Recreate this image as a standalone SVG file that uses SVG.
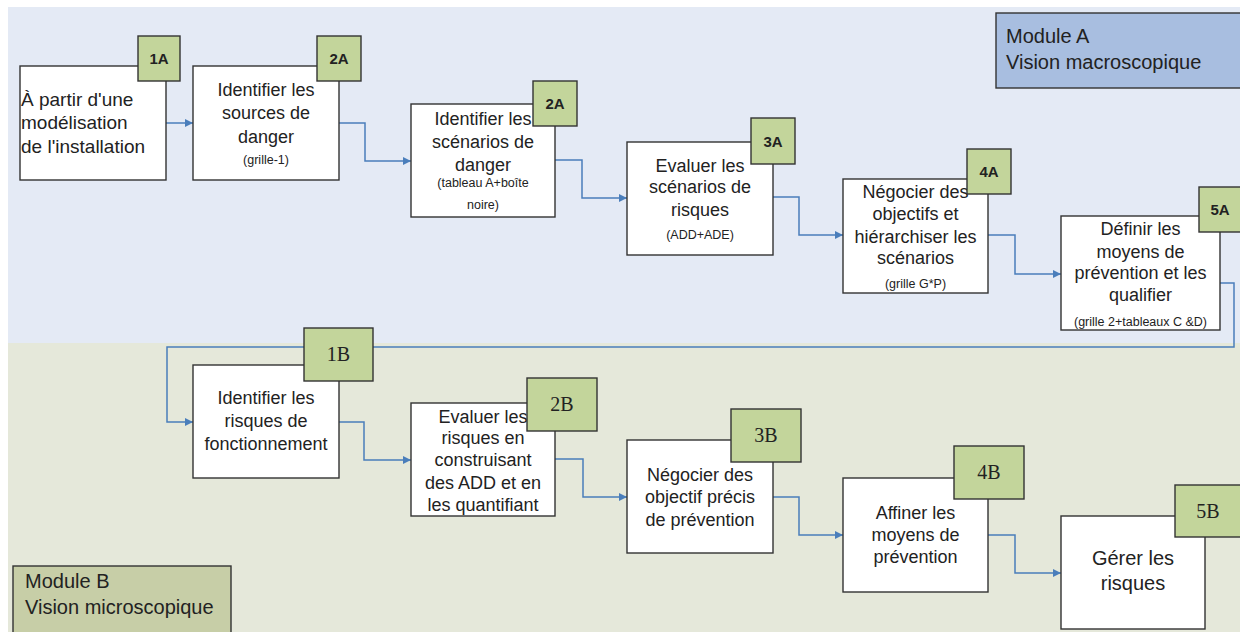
<svg xmlns="http://www.w3.org/2000/svg" width="1240" height="632" viewBox="0 0 1240 632">
<defs>
<style>
.box{fill:#ffffff;stroke:#333333;stroke-width:1.4}
.badge{fill:#c3d59b;stroke:#333333;stroke-width:1.4}
.t{font-family:"Liberation Sans",Arial,sans-serif;font-size:18px;fill:#222222;text-anchor:middle}
.tl{font-family:"Liberation Sans",Arial,sans-serif;font-size:19px;fill:#222222}
.s{font-family:"Liberation Sans",Arial,sans-serif;font-size:12.5px;fill:#222222;text-anchor:middle}
.ba{font-family:"Liberation Sans",Arial,sans-serif;font-size:15px;font-weight:bold;fill:#222222;text-anchor:middle}
.bb{font-family:"Liberation Serif","Times New Roman",serif;font-size:20px;fill:#222222;text-anchor:middle}
.big{font-family:"Liberation Sans",Arial,sans-serif;font-size:20px;fill:#222222;text-anchor:middle}
.mod{font-family:"Liberation Sans",Arial,sans-serif;font-size:20px;fill:#222222}
.c{fill:none;stroke:#4a7ebb;stroke-width:1.5}
</style>
<marker id="arr" viewBox="0 0 10 10" refX="10" refY="5" markerWidth="8" markerHeight="8" markerUnits="userSpaceOnUse" orient="auto">
<path d="M0,0 L10,5 L0,10 z" fill="#4a7ebb"/>
</marker>
</defs>
<rect x="0" y="0" width="1240" height="632" fill="#ffffff"/>
<rect id="moduleA-bg" x="8" y="7" width="1232" height="336" fill="#e4eaf5"/>
<rect id="moduleB-bg" x="8" y="343" width="1232" height="289" fill="#e5e8da"/>
<g id="moduleA-label">
<rect x="996" y="13" width="250" height="75" fill="#a8bee0" stroke="#333333" stroke-width="1.4"/>
<text class="mod" x="1006" y="43">Module A</text>
<text class="mod" x="1006" y="69">Vision macroscopique</text>
</g>
<g id="moduleB-label">
<rect x="13" y="566" width="218" height="70" fill="#c7cea7" stroke="#333333" stroke-width="1.4"/>
<text class="mod" x="25" y="588">Module B</text>
<text class="mod" x="25" y="614">Vision microscopique</text>
</g>
<g id="connectors">
<path class="c" d="M166,123 H193" marker-end="url(#arr)"/>
<path class="c" d="M339,123 H365 V161 H411" marker-end="url(#arr)"/>
<path class="c" d="M555,160 H582 V198 H627" marker-end="url(#arr)"/>
<path class="c" d="M773,197 H799 V235 H843" marker-end="url(#arr)"/>
<path class="c" d="M988,235 H1015 V274 H1061" marker-end="url(#arr)"/>
<path class="c" d="M1220,283 H1234 V347 H167 V422 H193" marker-end="url(#arr)"/>
<path class="c" d="M339,422 H364 V460 H411" marker-end="url(#arr)"/>
<path class="c" d="M555,459 H583 V497 H627" marker-end="url(#arr)"/>
<path class="c" d="M773,497 H799 V535 H843" marker-end="url(#arr)"/>
<path class="c" d="M988,535 H1015 V573 H1061" marker-end="url(#arr)"/>
</g>
<g id="node-1A">
<rect class="box" x="20" y="66" width="146" height="114"/>
<text class="tl" x="21" y="106">À partir d'une</text>
<text class="tl" x="21" y="129">modélisation</text>
<text class="tl" x="21" y="153">de l'installation</text>
<rect class="badge" x="138" y="36" width="42" height="45"/>
<text class="ba" x="159" y="64">1A</text>
</g>
<g id="node-2A-sources">
<rect class="box" x="193" y="66" width="146" height="114"/>
<text class="t" x="266" y="96">Identifier les</text>
<text class="t" x="266" y="119">sources de</text>
<text class="t" x="266" y="143">danger</text>
<text class="s" x="266" y="164">(grille-1)</text>
<rect class="badge" x="317" y="36" width="44" height="45"/>
<text class="ba" x="339" y="64">2A</text>
</g>
<g id="node-2A-scenarios">
<rect class="box" x="411" y="104" width="144" height="113"/>
<text class="t" x="483" y="125">Identifier les</text>
<text class="t" x="483" y="148">scénarios de</text>
<text class="t" x="483" y="171">danger</text>
<text class="s" x="483" y="187">(tableau A+boîte</text>
<text class="s" x="483" y="209">noire)</text>
<rect class="badge" x="533" y="81" width="44" height="45"/>
<text class="ba" x="555" y="109">2A</text>
</g>
<g id="node-3A">
<rect class="box" x="627" y="142" width="146" height="113"/>
<text class="t" x="700" y="172">Evaluer les</text>
<text class="t" x="700" y="193">scénarios de</text>
<text class="t" x="700" y="216">risques</text>
<text class="s" x="700" y="239">(ADD+ADE)</text>
<rect class="badge" x="751" y="118" width="44" height="46"/>
<text class="ba" x="773" y="147">3A</text>
</g>
<g id="node-4A">
<rect class="box" x="843" y="179" width="145" height="114"/>
<text class="t" x="915.5" y="198">Négocier des</text>
<text class="t" x="915.5" y="220">objectifs et</text>
<text class="t" x="915.5" y="243">hiérarchiser les</text>
<text class="t" x="915.5" y="264">scénarios</text>
<text class="s" x="915.5" y="288">(grille G*P)</text>
<rect class="badge" x="967" y="149" width="44" height="45"/>
<text class="ba" x="989" y="177">4A</text>
</g>
<g id="node-5A">
<rect class="box" x="1061" y="216" width="159" height="114"/>
<text class="t" x="1140.5" y="235">Définir les</text>
<text class="t" x="1140.5" y="258">moyens de</text>
<text class="t" x="1140.5" y="279">prévention et les</text>
<text class="t" x="1140.5" y="301">qualifier</text>
<text class="s" x="1140.5" y="326">(grille 2+tableaux C &amp;D)</text>
<rect class="badge" x="1199" y="187" width="44" height="45"/>
<text class="ba" x="1220" y="215">5A</text>
</g>
<g id="node-1B">
<rect class="box" x="193" y="365" width="146" height="113"/>
<text class="t" x="266" y="404">Identifier les</text>
<text class="t" x="266" y="427">risques de</text>
<text class="t" x="266" y="450">fonctionnement</text>
<rect class="badge" x="304" y="328" width="69" height="53"/>
<text class="bb" x="338.5" y="361">1B</text>
</g>
<g id="node-2B">
<rect class="box" x="411" y="403" width="144" height="113"/>
<text class="t" x="483" y="423">Evaluer les</text>
<text class="t" x="483" y="444">risques en</text>
<text class="t" x="483" y="466">construisant</text>
<text class="t" x="483" y="489">des ADD et en</text>
<text class="t" x="483" y="511">les quantifiant</text>
<rect class="badge" x="527" y="378" width="70" height="53"/>
<text class="bb" x="562" y="411">2B</text>
</g>
<g id="node-3B">
<rect class="box" x="627" y="440" width="146" height="113"/>
<text class="t" x="700" y="481">Négocier des</text>
<text class="t" x="700" y="503">objectif précis</text>
<text class="t" x="700" y="526">de prévention</text>
<rect class="badge" x="731" y="409" width="70" height="53"/>
<text class="bb" x="766" y="442">3B</text>
</g>
<g id="node-4B">
<rect class="box" x="843" y="478" width="145" height="114"/>
<text class="t" x="915.5" y="519">Affiner les</text>
<text class="t" x="915.5" y="541">moyens de</text>
<text class="t" x="915.5" y="563">prévention</text>
<rect class="badge" x="954" y="446" width="70" height="53"/>
<text class="bb" x="989" y="479">4B</text>
</g>
<g id="node-5B">
<rect class="box" x="1061" y="516" width="144" height="113"/>
<text class="big" x="1133" y="565">Gérer les</text>
<text class="big" x="1133" y="590">risques</text>
<rect class="badge" x="1175" y="485" width="70" height="52"/>
<text class="bb" x="1208" y="518">5B</text>
</g>
</svg>
